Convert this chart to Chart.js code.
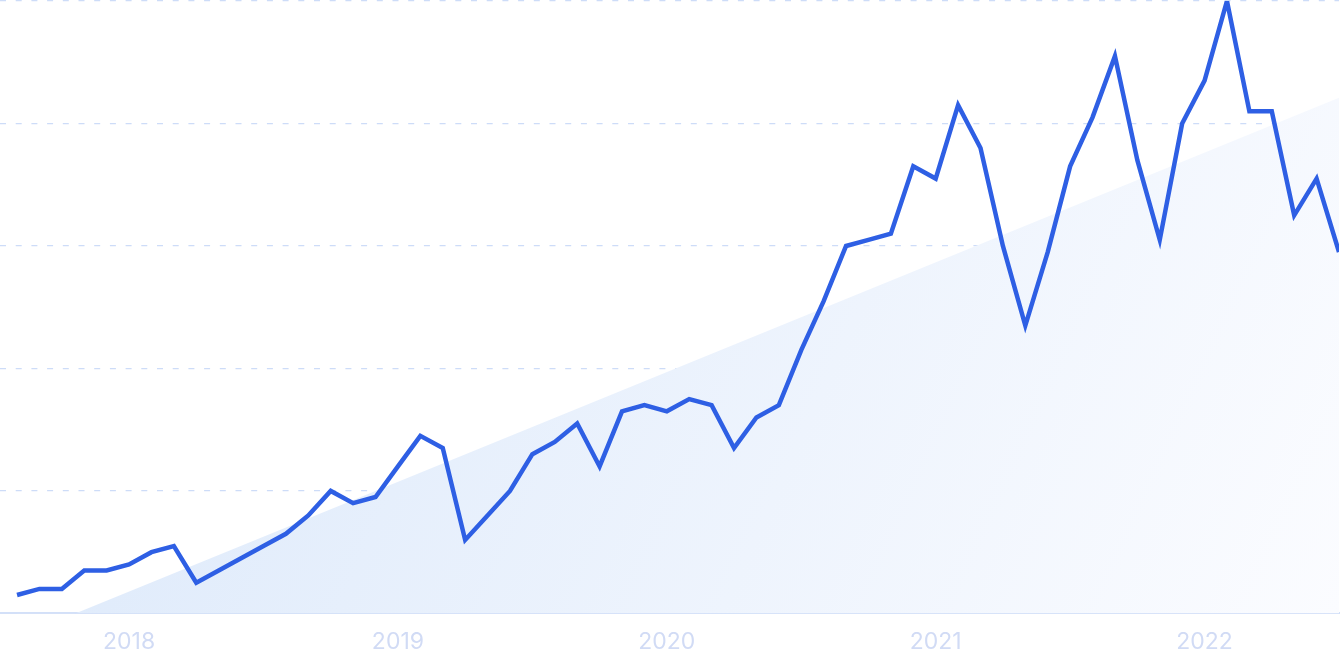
<!DOCTYPE html>
<html>
<head>
<meta charset="utf-8">
<script src="https://cdn.jsdelivr.net/npm/chart.js@4.4.0/dist/chart.umd.min.js"></script>
<style>
  html, body { margin: 0; padding: 0; background: #ffffff; }
  #wrap { width: 1343px; height: 671px; position: relative; }
</style>
</head>
<body>
<div id="wrap"><canvas id="c"></canvas></div>
<script>
// Monthly categories (Aug 2017 – Jul 2022)
const months = [
  'Aug 2017','Sep 2017','Oct 2017','Nov 2017','Dec 2017',
  'Jan 2018','Feb 2018','Mar 2018','Apr 2018','May 2018','Jun 2018','Jul 2018','Aug 2018','Sep 2018','Oct 2018','Nov 2018','Dec 2018',
  'Jan 2019','Feb 2019','Mar 2019','Apr 2019','May 2019','Jun 2019','Jul 2019','Aug 2019','Sep 2019','Oct 2019','Nov 2019','Dec 2019',
  'Jan 2020','Feb 2020','Mar 2020','Apr 2020','May 2020','Jun 2020','Jul 2020','Aug 2020','Sep 2020','Oct 2020','Nov 2020','Dec 2020',
  'Jan 2021','Feb 2021','Mar 2021','Apr 2021','May 2021','Jun 2021','Jul 2021','Aug 2021','Sep 2021','Oct 2021','Nov 2021','Dec 2021',
  'Jan 2022','Feb 2022','Mar 2022','Apr 2022','May 2022','Jun 2022','Jul 2022'
];
// Search interest values (0–100)
const values = [
  3, 4, 4, 7, 7,
  8, 10, 11, 5, 7, 9, 11, 13, 16, 20, 18, 19,
  24, 29, 27, 12, 16, 20, 26, 28, 31, 24, 33, 34,
  33, 35, 34, 27, 32, 34, 43, 51, 60, 61, 62, 73,
  71, 83, 76, 60, 47, 59, 73, 81, 91, 74, 61, 80,
  87, 100, 82, 82, 65, 71, 59
];
// Trend line endpoints (first and last month)
const trendIndex = [0, 59];
const trendValues = [-3.9, 84.2];
// X tick labels (placed at January of each year)
const yearLabels = ['2018', '2019', '2020', '2021', '2022'];
const yearTickIndex = [5, 17, 29, 41, 53];
// Y grid values
const yTicks = [0, 20, 40, 60, 80, 100];

const ctx = document.getElementById('c');
new Chart(ctx, {
  type: 'line',
  data: {
    datasets: [
      {
        label: 'Searches',
        data: values.map((v, i) => ({ x: i, y: v, m: months[i] })),
        borderColor: '#2e5fe4',
        borderWidth: 4.5,
        pointRadius: 0,
        tension: 0,
        fill: false,
        borderJoinStyle: 'miter',
        order: 1
      },
      {
        label: 'Trend',
        data: trendIndex.map((x, i) => ({ x: x, y: trendValues[i] })),
        borderWidth: 0,
        borderColor: 'rgba(0,0,0,0)',
        pointRadius: 0,
        fill: 'start',
        backgroundColor: (c) => {
          const ca = c.chart.chartArea;
          if (!ca) return '#e8f0fc';
          const g = c.chart.ctx.createLinearGradient(ca.left, ca.top, ca.right, ca.bottom);
          g.addColorStop(0, '#d9e7fa');
          g.addColorStop(1, '#fbfcff');
          return g;
        },
        order: 2
      }
    ]
  },
  options: {
    responsive: true,
    maintainAspectRatio: false,
    animation: false,
    layout: { padding: { left: 0, right: 4, top: 1, bottom: 0 } },
    plugins: { legend: { display: false }, tooltip: { enabled: false } },
    scales: {
      x: {
        type: 'linear',
        min: -0.76,
        max: 59,
        afterBuildTicks: (s) => { s.ticks = yearTickIndex.map(v => ({ value: v })); },
        grid: { display: false, drawTicks: false },
        border: { display: true, color: '#d3e0f8', width: 2 },
        ticks: {
          autoSkip: false,
          maxRotation: 0,
          padding: 15,
          color: '#d1dbf5',
          font: { family: 'Inter', size: 23 },
          callback: (v) => {
            const k = yearTickIndex.indexOf(v);
            return k >= 0 ? yearLabels[k] : '';
          }
        }
      },
      y: {
        min: 0,
        max: 100,
        afterBuildTicks: (s) => { s.ticks = yTicks.map(v => ({ value: v })); },
        grid: {
          color: (c) => c.tick && c.tick.value === 0 ? 'rgba(0,0,0,0)' : '#cddcf8',
          lineWidth: 1.2,
          drawTicks: false,
          tickLength: 0
        },
        border: { display: false, dash: [6, 9.7] },
        ticks: { display: false }
      }
    }
  }
});
</script>
</body>
</html>
